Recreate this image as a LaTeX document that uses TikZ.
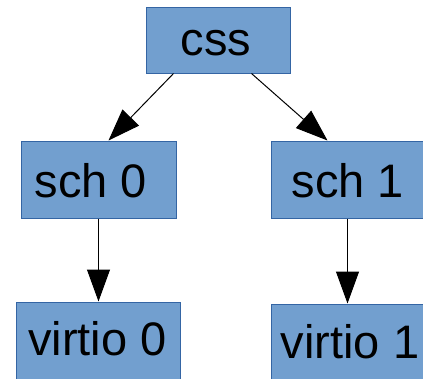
\documentclass[tikz,border=0pt]{standalone}
\usepackage{fontspec}
\setmainfont{Liberation Sans}
\usetikzlibrary{arrows.meta}
\definecolor{boxfill}{HTML}{729FCF}
\definecolor{boxline}{HTML}{3465A4}
\tikzset{
  box/.style={draw=boxline, fill=boxfill, line width=1pt, inner sep=0pt,
    font=\fontsize{47}{47}\selectfont, text=black},
  conn/.style={draw=black, line width=1pt,
    -{Triangle[length=32pt,width=23pt]}},
}
\begin{document}
\begin{tikzpicture}[x=1pt,y=-1pt]
\useasboundingbox (0,0) rectangle (423,378);
\fill[white] (0,0) rectangle (423,378);
\clip (0,0) rectangle (423,378);
\node[box, minimum width=144pt, minimum height=66pt] (css) at (218,40) {};
\node[font=\fontsize{47}{47}\selectfont, anchor=base] (csst) at (216,55) {css};
\node[box, minimum width=155pt, minimum height=77pt] (sch0) at (98.5,179.5) {};
\node[font=\fontsize{47}{47}\selectfont, anchor=base] (sch0t) at (91,197) {sch 0};
\node[box, minimum width=155pt, minimum height=77pt] (sch1) at (348.5,179.5) {};
\node[font=\fontsize{47}{47}\selectfont, anchor=base] (sch1t) at (348,197) {sch 1};
\node[box, minimum width=164pt, minimum height=77pt] (v0) at (98,340.5) {};
\node[font=\fontsize{47}{47}\selectfont, anchor=base] (v0t) at (97.5,355) {virtio 0};
\node[box, minimum width=164pt, minimum height=77pt] (v1) at (353,342.5) {};
\node[font=\fontsize{47}{47}\selectfont, anchor=base] (v1t) at (350,358) {virtio 1};
\draw[conn] ([xshift=28pt]css.south west) -- ([xshift=88pt]sch0.north west);
\draw[conn] ([xshift=106pt]css.south west) -- ([xshift=57pt]sch1.north west);
\draw[conn] ([xshift=78pt]sch0.south west) -- ([xshift=83pt]v0.north west);
\draw[conn] ([xshift=77pt]sch1.south west) -- ([xshift=77pt]v1.north west);
\end{tikzpicture}
\end{document}
